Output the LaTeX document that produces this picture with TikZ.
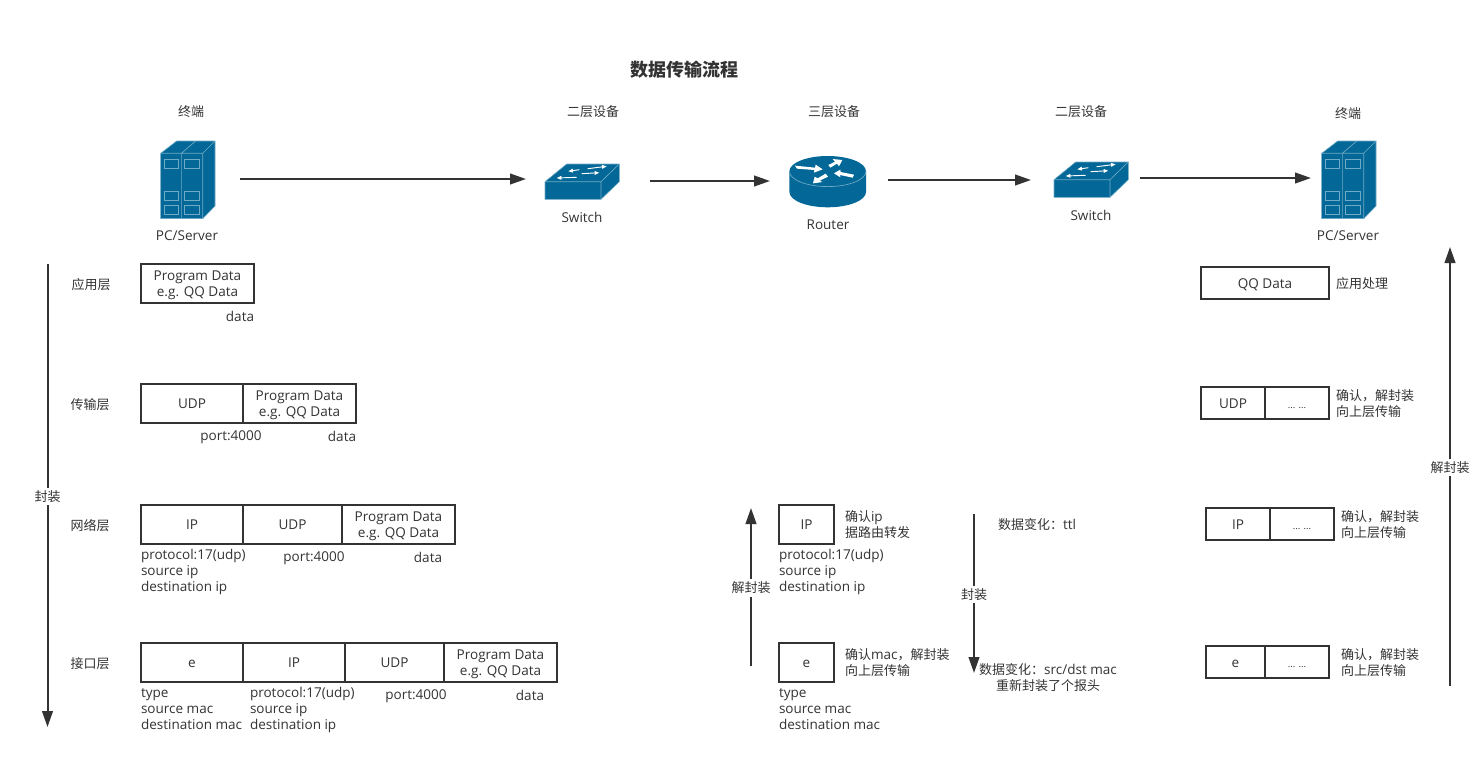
\documentclass[tikz,border=0pt]{standalone}
\usepackage{fontspec}
\setmainfont{Open Sans}
\newfontfamily\cjk{Noto Sans CJK SC}
\usetikzlibrary{arrows.meta}
\definecolor{inkcol}{HTML}{333333}
\definecolor{devcol}{HTML}{036897}
\definecolor{edgecol}{HTML}{6FAAC6}
\newcommand{\latin}{\fontspec{Open Sans}\fontsize{10.15}{12}\selectfont}
\tikzset{
    txt/.style={inner sep=0pt, outer sep=0pt, text=inkcol, align=left, font=\fontsize{10.15}{12}\selectfont},
    zh/.style={txt, yshift=-0.75pt, font=\cjk\fontsize{9.75}{12}\selectfont},
    cell/.style={draw=inkcol, line width=1.5pt, inner sep=0pt, outer sep=0pt, minimum height=#1*0.75pt, text=inkcol, align=center, font=\fontsize{10.15}{12}\selectfont, text height=7.6pt, text depth=0pt},
    cell/.default=39,
    cellw/.style={minimum width=#1*0.75pt},
    twin/.style={text height=19.4pt},
    hub/.style={inner sep=0pt, outer sep=0pt, minimum height=10pt, minimum width=#1*0.75pt},
    flow/.style={draw=inkcol, line width=1.5pt, -{Triangle[length=12pt,width=8pt]}},
    tag/.style={zh, yshift=0pt, fill=white, inner xsep=1pt, inner ysep=2pt},
    dart/.style={white, line width=0.7pt, -{Triangle[length=3.5pt,width=2.8pt]}},
    % server icon, origin at the top left of its outline
    server/.pic={
        \path[fill=devcol, draw=edgecol, line width=0.4pt] (0,12.3) -- (16,0) -- (54.3,0) -- (54.3,65) -- (42,77.7) -- (0,77.7) -- cycle;
        \draw[edgecol, line width=0.5pt] (0,12.3) -- (42,12.3) -- (54.3,0) (42,12.3) -- (42,77.7) (20.7,12.3) -- (35,0) (20.7,12.3) -- (20.7,77.7);
        \foreach \col in {3.4,23.6} {
            \foreach \row in {18.7,50.7,64.3} {
                \draw[edgecol, line width=0.5pt] (\col,\row) rectangle ++(14.6,9);
            }
        }
    },
    % switch icon
    switch/.pic={
        \path[fill=devcol, draw=edgecol, line width=0.4pt] (0,17.7) -- (21.7,0) -- (74.3,0) -- (74.3,17.7) -- (56,35.3) -- (0,35.3) -- cycle;
        \draw[edgecol, line width=0.5pt] (0,17.7) -- (56,17.7) -- (74.3,0) (56,17.7) -- (56,35.3);
        \draw[dart] (34.3,5.7) -- (23.3,7.3);
        \draw[dart] (42.7,4.7) -- (61.7,2.3);
        \draw[dart] (31.7,13.3) -- (11.7,14);
        \draw[dart] (36.7,9.7) -- (54.3,8.7);
    },
    % router icon, origin at the centre of its top face
    router/.pic={
        \fill[devcol] (-38.3,0) -- (-38.3,20.7) arc[start angle=180, end angle=0, x radius=38.3, y radius=15.3] -- (38.3,0) -- cycle;
        \fill[devcol] (0,0) ellipse[x radius=38.3, y radius=15.3];
        \draw[edgecol, line width=0.5pt] (-38.3,0) arc[start angle=180, end angle=0, x radius=38.3, y radius=15.3];
        \begin{scope}[shift={(-42.7,-21.3)}, x=0.25pt, y=-0.25pt]
            \fill[white] (30,47) -- (90,53) -- (92,44) -- (113,58) -- (87,68) -- (88,60) -- (36,56) -- cycle;
            \fill[white] (130,45) -- (150,35) -- (143,27) -- (172,30) -- (162,49) -- (156,41) -- (136,53) -- cycle;
            \fill[white] (147,70) -- (166,59) -- (167,66) -- (207,74) -- (203,83) -- (165,75) -- (166,82) -- cycle;
            \fill[white] (84,100) -- (89,80) -- (98,85) -- (122,71) -- (129,80) -- (104,92) -- (112,96) -- cycle;
        \end{scope}
    }
}
\begin{document}
\begin{tikzpicture}[x=0.75pt, y=-0.75pt]
    \useasboundingbox (0,0) rectangle (1482,767);

    % Title and device captions
    \node[zh, font=\cjk\bfseries\fontsize{13.5}{16}\selectfont] (title) at (684.5,69) {数据传输流程};
    \node[zh] (cap1) at (191,111) {终端};
    \node[zh] (cap2) at (593,111) {二层设备};
    \node[zh] (cap3) at (834,111) {三层设备};
    \node[zh] (cap4) at (1081,111) {二层设备};
    \node[zh] (cap5) at (1348,113) {终端};

    % Devices
    \pic at (160.7,141) {server};
    \pic at (545,164) {switch};
    \pic at (827.7,171.3) {router};
    \pic at (1054,162) {switch};
    \pic at (1321.7,141) {server};
    \node[hub=158] (pc1) at (161,179) {};
    \node[hub=124] (sw1) at (588,181) {};
    \node[hub=118] (rt1) at (829,180) {};
    \node[hub=109] (sw2) at (1085.5,178) {};
    \node[hub=74] (pc2) at (1348,178) {};
    \draw[flow] (pc1.east) -- (pc1.east -| sw1.west);
    \draw[flow] (sw1.east) -- (sw1.east -| rt1.west);
    \draw[flow] (rt1.east) -- (rt1.east -| sw2.west);
    \draw[flow] (sw2.east) -- (sw2.east -| pc2.west);
    \node[txt] (name1) at (187,236) {PC/Server};
    \node[txt] (name2) at (582,217) {Switch};
    \node[txt] (name3) at (828,225) {Router};
    \node[txt] (name4) at (1091,215) {Switch};
    \node[txt] (name5) at (1348,236) {PC/Server};

    % Layer names
    \node[zh] (lay1) at (91,284) {应用层};
    \node[zh] (lay2) at (90,404) {传输层};
    \node[zh] (lay3) at (90,525) {网络层};
    \node[zh] (lay4) at (90,663) {接口层};

    % Encapsulation on the left
    \node[cell, twin, cellw=113] (a1) at (197.5,283.5) {Program Data\\e.g. QQ Data};
    \node[txt] (a1t) at (240,316) {data};

    \node[cell, cellw=102] (b1) at (192,403.5) {UDP};
    \node[cell, twin, cellw=113] (b2) at (299.5,403.5) {Program Data\\e.g. QQ Data};
    \node[txt] (b1t) at (231,437) {port:4000};
    \node[txt] (b2t) at (342,436) {data};

    \node[cell, cellw=102] (c1) at (192,524.5) {IP};
    \node[cell, cellw=99] (c2) at (292.5,524.5) {UDP};
    \node[cell, twin, cellw=113] (c3) at (398.5,524.5) {Program Data\\e.g. QQ Data};
    \node[txt, anchor=west] (c1t) at (141,572) {protocol:17(udp)\\source ip\\destination ip};
    \node[txt] (c2t) at (314,558) {port:4000};
    \node[txt] (c3t) at (428,557) {data};

    \node[cell, cellw=102] (d1) at (192,662.5) {e};
    \node[cell, cellw=102] (d2) at (294,662.5) {IP};
    \node[cell, cellw=99] (d3) at (394.5,662.5) {UDP};
    \node[cell, twin, cellw=113] (d4) at (500.5,662.5) {Program Data\\e.g. QQ Data};
    \node[txt, anchor=west] (d1t) at (141,709.5) {type\\source mac\\destination mac};
    \node[txt, anchor=west] (d2t) at (250,710) {protocol:17(udp)\\source ip\\destination ip};
    \node[txt] (d3t) at (416,696) {port:4000};
    \node[txt] (d4t) at (530,695) {data};

    % Router in the middle
    \node[cell, cellw=55] (m1) at (806.5,524.5) {IP};
    \node[zh, anchor=west] (m1n) at (845,524) {确认{\latin ip}\\据路由转发};
    \node[txt, anchor=west] (m1t) at (779,572) {protocol:17(udp)\\source ip\\destination ip};
    \node[cell, cellw=55] (m2) at (806.5,662.5) {e};
    \node[zh, anchor=west] (m2n) at (845,662) {确认{\latin mac}，解封装\\向上层传输};
    \node[txt, anchor=west] (m2t) at (779,709.5) {type\\source mac\\destination mac};
    \node[zh, anchor=west] (ttl) at (998,524) {数据变化：{\latin ttl}};
    \node[zh, align=center] (mac) at (1048,677) {数据变化：{\latin src/dst mac}\\重新封装了个报头};

    % Decapsulation on the right
    \node[cell=32, cellw=128] (r1) at (1265,283) {QQ Data};
    \node[zh, anchor=west] (r1n) at (1336,283) {应用处理};
    \node[cell=32, cellw=64] (r2) at (1233,403) {UDP};
    \node[cell=32, cellw=64] (r3) at (1297,403) {\fontsize{7}{8}\selectfont ... ...};
    \node[zh, anchor=west] (r2n) at (1336,403) {确认，解封装\\向上层传输};
    \node[cell=32, cellw=64] (r4) at (1238,524) {IP};
    \node[cell=32, cellw=64] (r5) at (1302,524) {\fontsize{7}{8}\selectfont ... ...};
    \node[zh, anchor=west] (r4n) at (1341,524) {确认，解封装\\向上层传输};
    \node[cell=32, cellw=59] (r6) at (1235.5,662) {e};
    \node[cell=32, cellw=64] (r7) at (1297,662) {\fontsize{7}{8}\selectfont ... ...};
    \node[zh, anchor=west] (r6n) at (1341,662) {确认，解封装\\向上层传输};

    % Vertical arrows
    \coordinate (v1a) at (47.5,264);
    \coordinate (v1b) at (47.5,727);
    \coordinate (v2a) at (751,666);
    \coordinate (v2b) at (751,508);
    \coordinate (v3a) at (974,514);
    \coordinate (v3b) at (974,673);
    \coordinate (v4a) at (1450,686);
    \coordinate (v4b) at (1450,247);
    \draw[flow] (v1a) -- node[tag] (v1l) {封装} (v1b);
    \draw[flow] (v2a) -- node[tag] (v2l) {解封装} (v2b);
    \draw[flow] (v3a) -- node[tag] (v3l) {封装} (v3b);
    \draw[flow] (v4a) -- node[tag] (v4l) {解封装} (v4b);
\end{tikzpicture}
\end{document}
